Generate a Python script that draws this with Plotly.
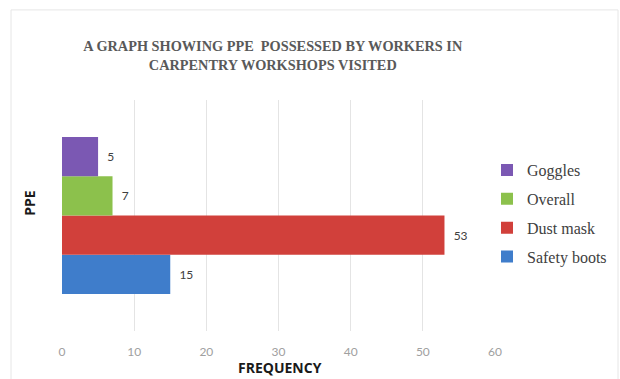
import plotly.graph_objects as go

categories = ["PPE"]
series_names = ["Safety boots", "Dust mask", "Overall", "Goggles"]
series_values = [15, 53, 7, 5]
series_colors = ["#3f7dcb", "#d1403b", "#8cc14c", "#7b58b3"]
legend_ranks = [4, 3, 2, 1]
x_ticks = [0, 10, 20, 30, 40, 50, 60]

fig = go.Figure()
for name, val, col, rank in zip(series_names, series_values, series_colors, legend_ranks):
    fig.add_trace(go.Bar(
        y=categories, x=[val], name=name, orientation="h",
        marker=dict(color=col, line=dict(width=0)),
        text=[val], texttemplate="\u00a0\u00a0%{x}", textposition="outside",
        textfont=dict(family="Lato", size=12, color="#404040"),
        cliponaxis=False, legendgroup=name, legendrank=rank,
    ))

fig.update_layout(
    width=620, height=379,
    margin=dict(l=62, r=0, t=100, b=48, autoexpand=False),
    paper_bgcolor="white", plot_bgcolor="white",
    barmode="group", bargap=0.32, bargroupgap=0,
    title=dict(
        text="A GRAPH SHOWING PPE  POSSESSED BY WORKERS IN<br>CARPENTRY WORKSHOPS VISITED",
        font=dict(family="Liberation Serif", size=14.3, color="#595959", weight="bold"),
        x=0.44, xanchor="center", xref="container", y=0.865, yanchor="middle",
    ),
    xaxis=dict(
        domain=[0, 433 / 558],
        range=[0, 60], tickvals=x_ticks, showgrid=True, gridcolor="#e4e4e4", gridwidth=1,
        zeroline=False, showline=False, ticks="outside", ticklen=10, tickcolor="rgba(0,0,0,0)",
        tickfont=dict(family="Lato", size=12, color="#a0a0a0"),
    ),
    yaxis=dict(showticklabels=False, showgrid=False, zeroline=False, showline=False),
    legend=dict(
        x=(487 - 62) / 558, xanchor="left", y=0.77, yanchor="top",
        traceorder="grouped", tracegroupgap=5,
        font=dict(family="Liberation Serif", size=16, color="#404040"),
        bgcolor="rgba(0,0,0,0)",
    ),
    showlegend=True,
    annotations=[
        dict(text="<b>FREQUENCY</b>", x=(280 - 62) / 558, xref="paper", y=-0.16, yref="paper",
             xanchor="center", yanchor="middle", showarrow=False,
             font=dict(family="Open Sans", size=14, color="#1a1a1a")),
        dict(text="<b>PPE</b>", x=-32 / 558, xref="paper", y=0.555, yref="paper",
             xanchor="center", yanchor="middle", showarrow=False, textangle=-90,
             font=dict(family="Open Sans", size=14, color="#1a1a1a")),
    ],
    shapes=[
        dict(type="rect", xref="paper", yref="paper", x0=-51 / 558, x1=556 / 558, y0=-0.21, y1=1.39,
             line=dict(color="#e6e6e6", width=1), fillcolor="rgba(0,0,0,0)", layer="below"),
    ],
)

fig.write_html("out.html")
